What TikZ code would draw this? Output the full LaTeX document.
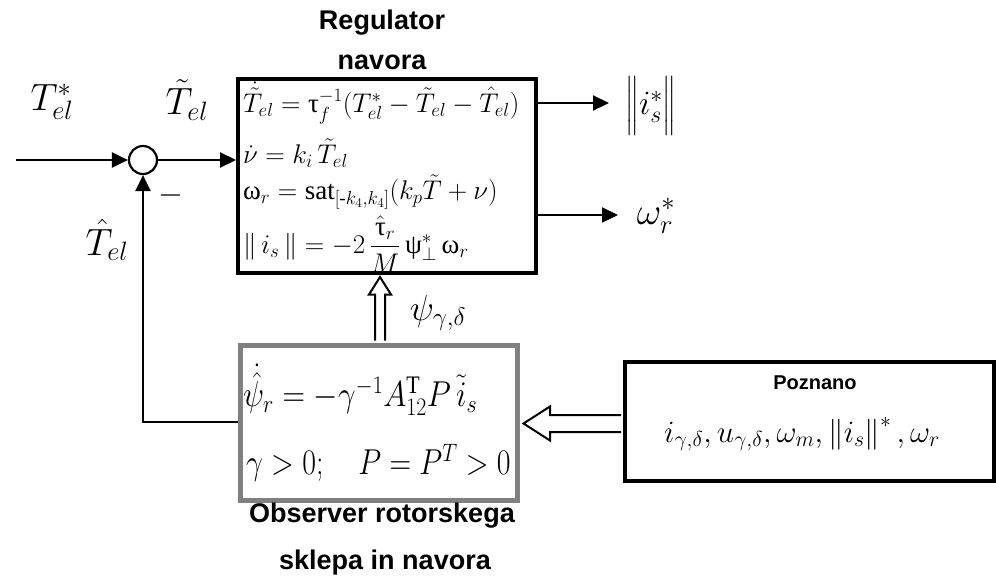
\RequirePackage{fix-cm}
\documentclass[tikz,border=0pt]{standalone}
\usepackage{amsmath}
\usepackage{fontspec}
\setmainfont{Liberation Serif}
\newfontfamily\arialf{Liberation Sans}
\newcommand{\myuptau}{\text{\normalfont τ}}
\newcommand{\myupomega}{\text{\normalfont ω}}
\newcommand{\myuppsi}{\text{\normalfont ψ}}
\definecolor{obsgray}{RGB}{128,128,128}
\usetikzlibrary{arrows.meta,calc}
\begin{document}
\begin{tikzpicture}[x=1pt,y=-1pt,
  title/.style={font=\arialf\bfseries\fontsize{27}{30}\selectfont},
  sig/.style={line width=2.2pt,-{Triangle[length=16pt,width=15pt]}},
  hollow/.style={draw=black,line width=2pt,fill=white,line join=miter},
  lbl/.style={inner sep=0pt},
  regeq/.style={lbl,anchor=west,font=\fontsize{27}{31}\selectfont},
  obseq/.style={lbl,anchor=west,font=\fontsize{36}{40}\selectfont}]
\useasboundingbox (0,0) rectangle (996,576);

% boxes
\node[draw,line width=4pt,minimum width=298pt,minimum height=194pt,inner sep=0pt] (reg) at (387,176) {};
\node[draw=obsgray,line width=5pt,minimum width=277pt,minimum height=155pt,inner sep=0pt] (obs) at (379,423) {};
\node[draw,line width=4pt,minimum width=369pt,minimum height=119pt,inner sep=0pt] (poz) at (809.5,421.5) {};
\node[draw,line width=2.2pt,circle,minimum size=28pt,inner sep=0pt] (sum) at (143,160) {};

% titles
\node[title] (t1) at (382,23) {Regulator};
\node[title] (t2) at (382,62) {navora};
\node[title] (t3) at (382,516) {Observer rotorskega};
\node[title] (t4) at (385,563) {sklepa in navora};
\node[font=\arialf\bfseries\fontsize{20}{22}\selectfont] (t5) at (815,383) {Poznano};

% regulator equations
\node[regeq] (e1) at (243,103) {$\dot{\tilde{T}}_{el}=\myuptau_f^{-1}(T^{*}_{el}-\tilde{T}_{el}-\hat{T}_{el})$};
\node[regeq] (e2) at (243,153) {$\dot{\nu}=k_i\,\tilde{T}_{el}$};
\node[regeq] (e3) at (243,192) {$\myupomega_r=\mathrm{sat}_{[\text{-}k_4,k_4]}(k_p\tilde{T}+\nu)$};
\node[regeq] (e4) at (243,244) {$\|\,i_s\,\|=-2\,\dfrac{\hat{\myuptau}_r}{M}\,\myuppsi^{*}_{\perp}\,\myupomega_r$};

% observer equations
\node[obseq,xscale=0.87] (o1) at (243,390) {$\dot{\hat{\psi}}_r=-\gamma^{-1}A_{12}^{\mathrm{T}}P\,\tilde{i}_s$};
\node[obseq,xscale=0.83] (o2) at (246,463) {$\gamma>0;\quad P=P^{T}>0$};

% poznano formula
\node[lbl,font=\fontsize{31}{36}\selectfont] (pf) at (802,434) {$i_{\gamma,\delta},u_{\gamma,\delta},\omega_m,\left\|i_s\right\|^{*},\omega_r$};

% signal labels
\node[lbl,font=\fontsize{38}{42}\selectfont] (lt1) at (52,102) {$T^{*}_{el}$};
\node[lbl,font=\fontsize{38}{42}\selectfont] (lt2) at (187,100) {$\tilde{T}_{el}$};
\node[lbl,font=\fontsize{38}{42}\selectfont] (lt3) at (107,240) {$\hat{T}_{el}$};
\node[lbl,font=\fontsize{32}{36}\selectfont] (mn) at (171,195) {$-$};
\node[lbl,font=\fontsize{34}{40}\selectfont] (li) at (651,106) {$\Big\|i_s^{*}\Big\|$};
\node[lbl,font=\fontsize{38}{42}\selectfont] (lw) at (656,216) {$\omega_r^{*}$};
\node[lbl,font=\fontsize{36}{40}\selectfont] (lp) at (438,313) {$\psi_{\gamma,\delta}$};

% connectors
\coordinate (in) at (16,160);
\draw[sig] (in) -- (sum.west);
\draw[sig] (sum.east) -- (reg.west|-sum);
\coordinate (fb) at (143,422);
\draw[sig] (obs.west|-fb) -- (fb) -- (sum.south);
\coordinate (o1e) at (538,103);
\coordinate (o2e) at (538,215);
\draw[sig] (o1e) -- (609,103) coordinate (o1t);
\draw[sig] (o2e) -- (618,215) coordinate (o2t);

% hollow arrows
\coordinate (va) at (380,0);
\draw[hollow] ($(obs.north-|va)+(-5,-2.5)$) -- ++(0,-46) -- ++(-6,0) -- ($(reg.south-|va)+(0,2)$) -- ($(obs.north-|va)+(11,-48.5)$) -- ++(-6,0) -- ($(obs.north-|va)+(5,-2.5)$);
\coordinate (ha) at (0,423.5);
\draw[hollow] ($(poz.west|-ha)+(-2,-8.5)$) -- ($(obs.east|-ha)+(30,-8.5)$) -- ++(0,-8.5) -- ($(obs.east|-ha)+(3.5,0)$) -- ($(obs.east|-ha)+(30,17)$) -- ++(0,-8.5) -- ($(poz.west|-ha)+(-2,8.5)$);
\end{tikzpicture}
\end{document}
